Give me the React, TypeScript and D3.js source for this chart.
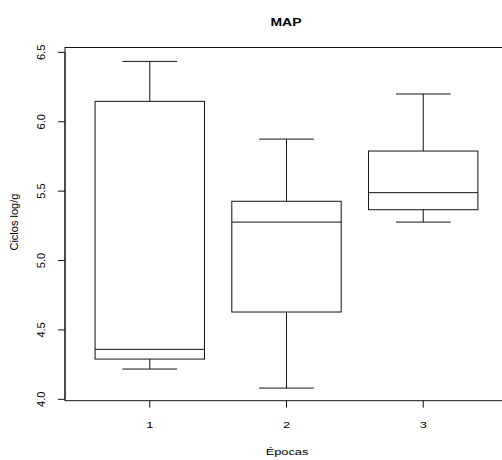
import * as d3 from "d3"

// Box statistics per época
const epocas = ["1", "2", "3"]
const whiskerLow = [4.218, 4.081, 5.277]
const q1 = [4.29, 4.629, 5.366]
const median = [4.36, 5.277, 5.489]
const q3 = [6.147, 5.427, 5.789]
const whiskerHigh = [6.435, 5.875, 6.2]
const yTicks = [4.0, 4.5, 5.0, 5.5, 6.0, 6.5]

const width = 502
const height = 460
const font = "'Liberation Sans', Arial, Helvetica, sans-serif"

export default function App() {
  // R-style plot region (the right edge runs past the image)
  const left = 65
  const right = 508
  const top = 47.5
  const bottom = 400.7

  const x = d3.scaleLinear().domain([0.38, 3.62]).range([left, right])
  const y = d3.scaleLinear().domain([3.99, 6.535]).range([bottom, top])

  const boxHalf = x(1.4) - x(1)
  const capHalf = x(1.2) - x(1)
  const stroke = "#111"
  // horizontal text in the source image is a bit stretched sideways
  const sx = 1.35

  return (
    <svg
      width={width}
      height={height}
      style={{ position: "fixed", left: 0, top: 0, background: "#fff" }}
      fontFamily={font}
    >
      <rect x={0} y={0} width={width} height={height} fill="#fff" />

      {/* title */}
      <text
        transform={`translate(286, 25.5) scale(1.27, 1)`}
        textAnchor="middle"
        fontSize={11}
        fontWeight="bold"
        fill="#000"
      >
        MAP
      </text>

      {/* plot box */}
      <rect x={left} y={top} width={right - left} height={bottom - top} fill="none" stroke={stroke} strokeWidth={1} />

      {/* boxes */}
      {epocas.map((e, i) => {
        const cx = x(i + 1)
        return (
          <g key={e} stroke={stroke} strokeWidth={1} fill="none">
            <line x1={cx} x2={cx} y1={y(whiskerHigh[i])} y2={y(q3[i])} />
            <line x1={cx} x2={cx} y1={y(q1[i])} y2={y(whiskerLow[i])} />
            <line x1={cx - capHalf} x2={cx + capHalf} y1={y(whiskerHigh[i])} y2={y(whiskerHigh[i])} />
            <line x1={cx - capHalf} x2={cx + capHalf} y1={y(whiskerLow[i])} y2={y(whiskerLow[i])} />
            <rect x={cx - boxHalf} y={y(q3[i])} width={boxHalf * 2} height={y(q1[i]) - y(q3[i])} />
            <line x1={cx - boxHalf} x2={cx + boxHalf} y1={y(median[i])} y2={y(median[i])} />
          </g>
        )
      })}

      {/* y axis */}
      <g stroke={stroke} strokeWidth={1}>
        <line x1={left} x2={left} y1={y(4.0)} y2={y(6.5)} />
        {yTicks.map((t) => (
          <line key={t} x1={left - 7} x2={left} y1={y(t)} y2={y(t)} />
        ))}
      </g>
      {yTicks.map((t) => (
        <text
          key={t}
          transform={`translate(45, ${y(t)}) rotate(-90)`}
          textAnchor="middle"
          fontSize={11}
          fill="#000"
        >
          {d3.format(".1f")(t)}
        </text>
      ))}
      <text
        transform={`translate(18, ${(top + bottom) / 2 - 2}) rotate(-90)`}
        textAnchor="middle"
        fontSize={11}
        fill="#000"
      >
        Ciclos log/g
      </text>

      {/* x axis */}
      <g stroke={stroke} strokeWidth={1}>
        {epocas.map((e, i) => (
          <line key={e} x1={x(i + 1)} x2={x(i + 1)} y1={bottom} y2={bottom + 7} />
        ))}
      </g>
      {epocas.map((e, i) => (
        <text
          key={e}
          transform={`translate(${x(i + 1)}, 428) scale(${sx}, 1)`}
          textAnchor="middle"
          fontSize={9.5}
          fill="#000"
        >
          {e}
        </text>
      ))}
      <text
        transform={`translate(287, 455) scale(${sx}, 1)`}
        textAnchor="middle"
        fontSize={9.5}
        fill="#000"
      >
        Épocas
      </text>
    </svg>
  )
}
